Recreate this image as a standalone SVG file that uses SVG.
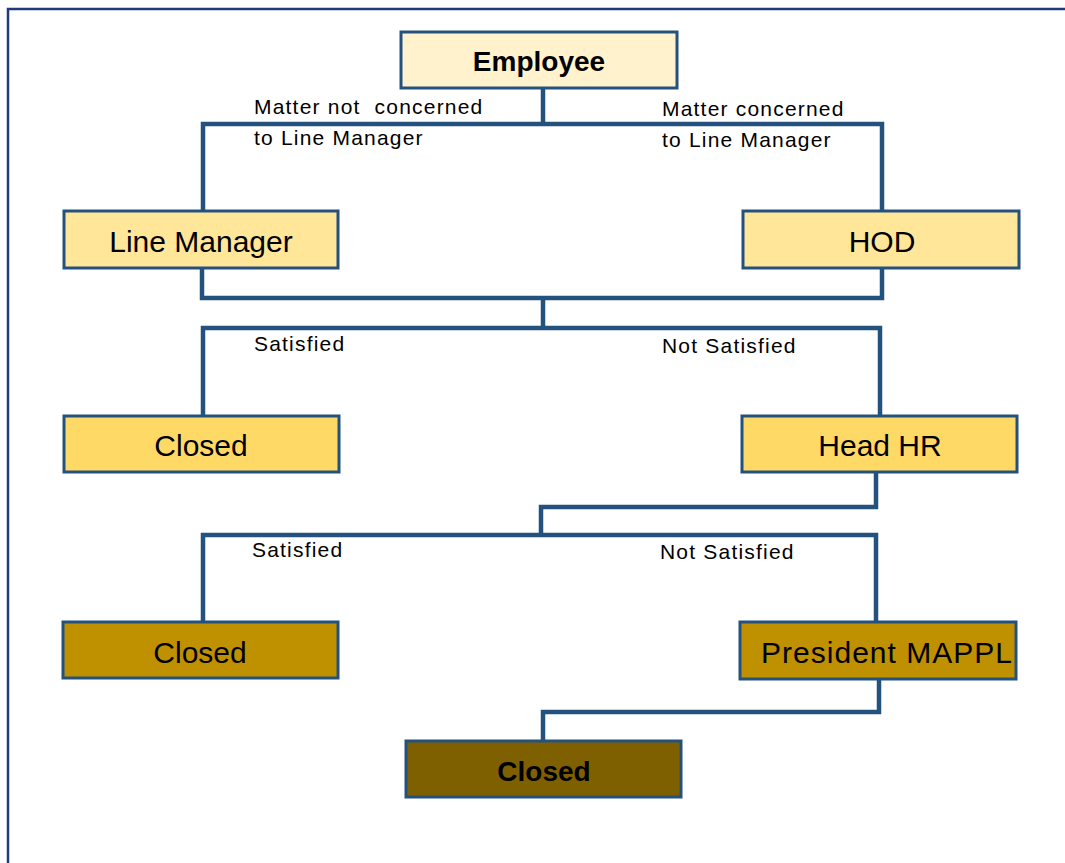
<svg xmlns="http://www.w3.org/2000/svg" width="1065" height="863" viewBox="0 0 1065 863">
<style>
.frame{fill:none;stroke:#1F3A7A;stroke-width:2.5}
.box{stroke:#24527F;stroke-width:3}
.conn{fill:none;stroke:#24527F;stroke-width:4.5;stroke-linejoin:miter;stroke-linecap:square}
.t{font-family:"Liberation Sans",Arial,sans-serif;font-size:30px;fill:#000;text-anchor:middle}
.tb{font-family:"Liberation Sans",Arial,sans-serif;font-size:28px;font-weight:bold;fill:#000;text-anchor:middle}
.lbl{font-family:"Liberation Sans",Arial,sans-serif;font-size:21px;fill:#000;letter-spacing:1.2px}
</style>
<rect width="1065" height="863" fill="#FFFFFF"/>
<path class="frame" d="M8,863 V9 H1065"/>
<g id="connectors">
<path class="conn" d="M543,90 V124 M203,210 V124 H882 V210"/>
<path class="conn" d="M202,270 V298 H882 V270 M543,298 V328 M203,414 V328 H880 V414"/>
<path class="conn" d="M876,474 V507 H541 V535 M203,620 V535 H876 V620"/>
<path class="conn" d="M879,680 V712 H543 V739"/>
</g>
<g id="labels">
<text class="lbl" x="254" y="114" xml:space="preserve">Matter not  concerned</text>
<text class="lbl" x="254" y="145">to Line Manager</text>
<text class="lbl" x="662" y="116">Matter concerned</text>
<text class="lbl" x="662" y="147">to Line Manager</text>
<text class="lbl" x="254" y="351">Satisfied</text>
<text class="lbl" x="662" y="353">Not Satisfied</text>
<text class="lbl" x="252" y="557">Satisfied</text>
<text class="lbl" x="660" y="559">Not Satisfied</text>
</g>
<g id="employee"><rect class="box" x="401" y="32" width="276" height="56" fill="#FFF2CC"/><text class="tb" x="539" y="71">Employee</text></g>
<g id="line-manager"><rect class="box" x="64" y="211" width="274" height="57" fill="#FFE699"/><text class="t" x="201" y="252">Line Manager</text></g>
<g id="hod"><rect class="box" x="743" y="211" width="276" height="57" fill="#FFE699"/><text class="t" x="882" y="252">HOD</text></g>
<g id="closed-1"><rect class="box" x="64" y="416" width="275" height="56" fill="#FFD966"/><text class="t" x="201" y="456">Closed</text></g>
<g id="head-hr"><rect class="box" x="742" y="416" width="275" height="56" fill="#FFD966"/><text class="t" x="880" y="456">Head HR</text></g>
<g id="closed-2"><rect class="box" x="63" y="622" width="275" height="56" fill="#BF9000"/><text class="t" x="200" y="663">Closed</text></g>
<g id="president"><rect class="box" x="740" y="622" width="276" height="57" fill="#BF9000"/><text class="t" x="887" y="663" style="letter-spacing:1px">President MAPPL</text></g>
<g id="closed-3"><rect class="box" x="406" y="741" width="275" height="56" fill="#7F6000"/><text class="tb" x="544" y="781">Closed</text></g>
</svg>
